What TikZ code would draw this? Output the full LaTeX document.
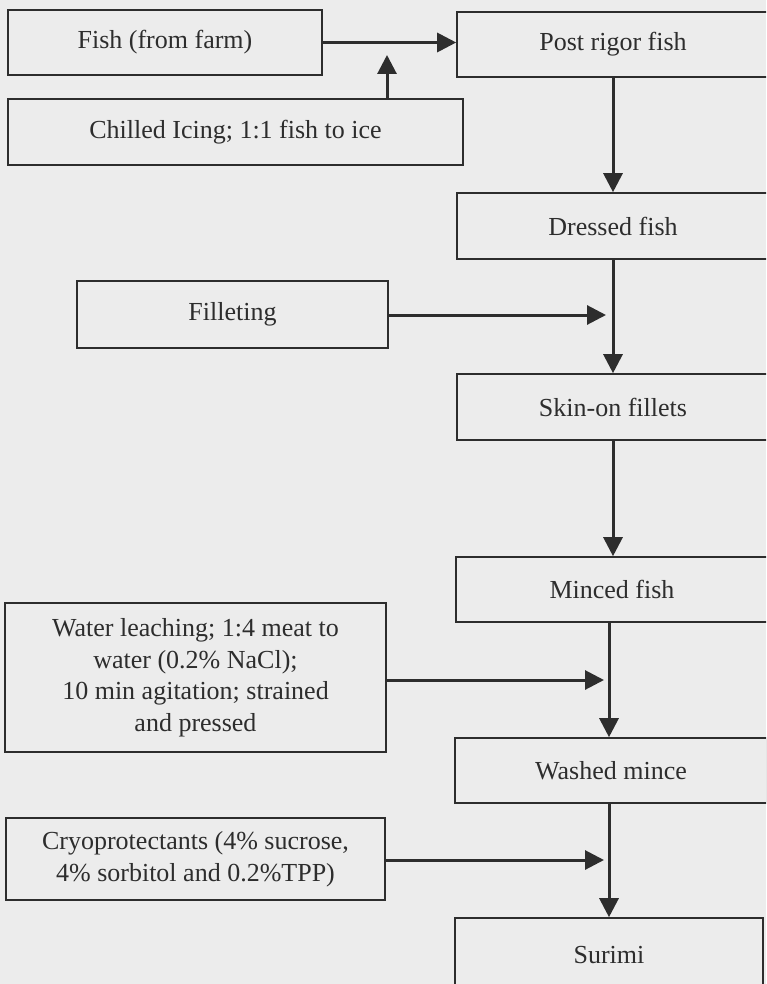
\documentclass[tikz,border=0pt]{standalone}
\usepackage{fontspec}
\setmainfont{Liberation Serif}
\usetikzlibrary{arrows.meta, positioning, calc}
\definecolor{papercolor}{RGB}{236,236,236}
\definecolor{inkcolor}{RGB}{45,45,45}
\tikzset{
  box/.style   = {draw=inkcolor, line width=1.6pt, rectangle, inner sep=0pt,
                  align=center, text=inkcolor, font=\fontsize{26}{31.5}\selectfont},
  arrow/.style = {-{Triangle[length=19pt,width=19pt]}, line width=3pt, color=inkcolor},
}

\begin{document}
\begin{tikzpicture}[x=1pt, y=-1pt]
  \useasboundingbox (0,0) rectangle (766,984);
  \fill[papercolor] (0,0) rectangle (766,984);
  \clip (0,0) rectangle (766,984);
  % main column
  \foreach \i/\x/\y/\w/\h/\txt in {rigor/613/44.5/312/65/Post rigor fish,
      dressed/613/226/312/66/Dressed fish, skin/613/407/312/66/Skin-on fillets,
      minced/612/589.5/312/65/Minced fish, washed/611/770.5/312/65/Washed mince,
      surimi/609/955/308/74/Surimi} {
    \node[box, minimum width=\w pt, minimum height=\h pt] (\i) at (\x, \y) {\txt};
  }
  % side boxes
  \node[box, minimum width=314pt, minimum height=65pt] (fish) at (165, 42.5) {Fish (from farm)};
  \node[box, minimum width=455pt, minimum height=66pt] (icing) at (235.5, 132) {Chilled Icing; 1:1 fish to ice};
  \node[box, minimum width=311pt, minimum height=67pt] (fillet) at (232.5, 314.5) {Filleting};
  \node[box, minimum width=381pt, minimum height=149pt] (leach) at (195.5, 677.5)
    {Water leaching; 1:4 meat to\\ water (0.2\% NaCl);\\ 10 min agitation; strained\\ and pressed};
  \node[box, minimum width=379pt, minimum height=82pt] (cryo) at (195.5, 859)
    {Cryoprotectants (4\% sucrose,\\ 4\% sorbitol and 0.2\%TPP)};
  % arrow tips on the main line
  \coordinate (icetip) at (387, 55);
  \coordinate (filltip) at (606, 315);
  \coordinate (leachtip) at (604, 680);
  \coordinate (cryotip) at (604, 860);
  % connectors
  \draw[arrow] (fish.east) -- (fish.east -| rigor.west);
  \draw[arrow] (icing.north -| icetip) -- (icetip);
  \draw[arrow] (rigor.south) -- (dressed.north);
  \draw[arrow] (fillet.east |- filltip) -- (filltip);
  \draw[arrow] (dressed.south) -- (skin.north);
  \draw[arrow] (skin.south) -- (skin.south |- minced.north);
  \draw[arrow] (leach.east |- leachtip) -- (leachtip);
  \draw[arrow] ([xshift=-3pt]minced.south) -- ([xshift=-3pt]minced.south |- washed.north);
  \draw[arrow] (cryo.east |- cryotip) -- (cryotip);
  \draw[arrow] ([xshift=-2pt]washed.south) -- ([xshift=-2pt]washed.south |- surimi.north);
\end{tikzpicture}
\end{document}
